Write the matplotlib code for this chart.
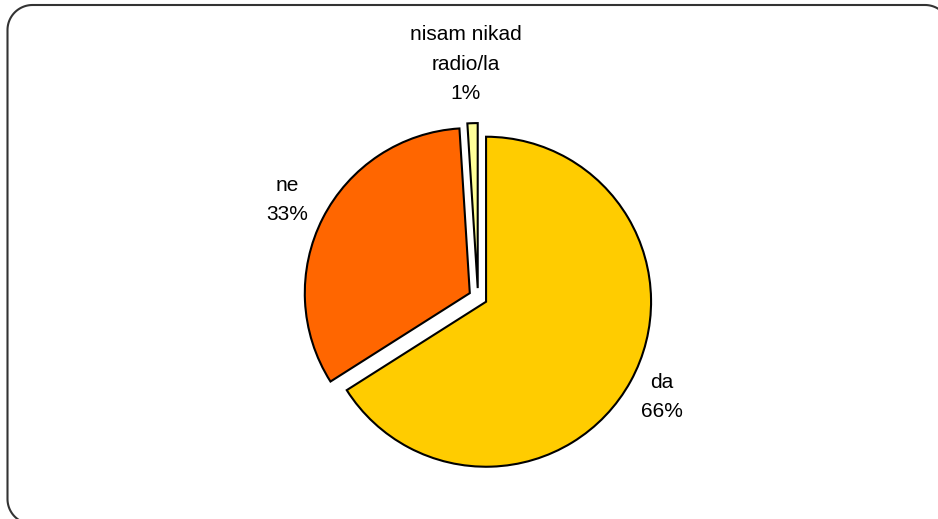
import matplotlib
matplotlib.use("Agg")
import numpy as np
import matplotlib.pyplot as plt

# Data
categories = ["da", "ne", "nisam nikad\nradio/la"]
values = [66, 33, 1]
colors = ["#FFCC00", "#FF6600", "#FFFF99"]

plt.rcParams['font.family'] = ['Liberation Sans', 'DejaVu Sans']

W, H = 938, 519
fig = plt.figure(figsize=(W / 100, H / 100), dpi=100)
ax = fig.add_axes([0, 0, 1, 1])

# pixel-space layout (y flipped)
cx, cy = 478, H - 297.3
R = 165
expl = 9.2

wedges, _ = ax.pie(values, colors=colors, startangle=90, counterclock=False,
                   radius=R, center=(cx, cy), explode=[expl] * len(values),
                   wedgeprops=dict(edgecolor="black", linewidth=1.5),
                   frame=True)

ax.set_xlim(0, W)
ax.set_ylim(0, H)
ax.set_aspect('equal')
ax.axis('off')

label_pos = [(662, H - 397), (287, H - 200), (465.5, H - 64)]
for cat, v, (lx, ly) in zip(categories, values, label_pos):
    ax.text(lx, ly, f"{cat}\n{v}%", ha='center', va='center', fontsize=15,
            linespacing=1.7, color='black')

# rounded border (decorative frame, pixel coords)
x0, x1, y0, y1, r = 7.5, 950, H - 524, H - 5, 25
def arc(xc, yc, a0, a1):
    t = np.radians(np.linspace(a0, a1, 30))
    return list(zip(xc + r * np.cos(t), yc + r * np.sin(t)))
pts = (arc(x1 - r, y1 - r, 0, 90) + arc(x0 + r, y1 - r, 90, 180)
       + arc(x0 + r, y0 + r, 180, 270) + arc(x1 - r, y0 + r, 270, 360))
pts.append(pts[0])
px, py = zip(*pts)
ax.plot(px, py, color='#333333', linewidth=1.5, clip_on=False,
        solid_capstyle='round')

fig.savefig("out.png", dpi=100)
